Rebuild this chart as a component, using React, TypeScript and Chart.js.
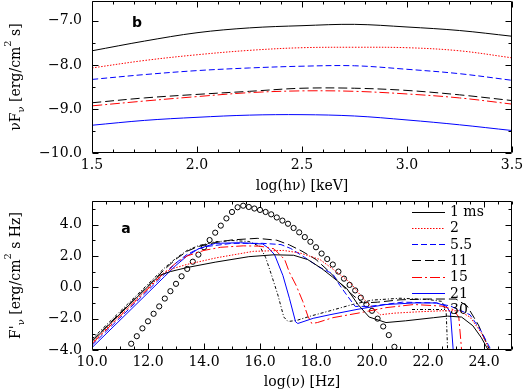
import React, { useEffect, useRef } from 'react';
import { Chart, registerables } from 'chart.js';

Chart.register(...registerables);

const SERIF = "'DejaVu Serif', serif";
const SANS = "'DejaVu Sans', sans-serif";

// ---------------- panel b (top) ----------------
const logHv = [1.5, 1.75, 2.0, 2.25, 2.5, 2.75, 3.0, 3.25, 3.5];
const b1 = [-7.68, -7.46, -7.27, -7.16, -7.11, -7.08, -7.14, -7.22, -7.35];
const b2 = [-8.07, -7.9, -7.77, -7.67, -7.61, -7.6, -7.61, -7.68, -7.84];
const b55 = [-8.33, -8.22, -8.13, -8.07, -8.03, -8.02, -8.1, -8.2, -8.35];
const b11 = [-8.86, -8.75, -8.67, -8.6, -8.53, -8.53, -8.58, -8.68, -8.81];
const b15 = [-8.93, -8.82, -8.72, -8.63, -8.59, -8.6, -8.66, -8.75, -8.89];
const b21 = [-9.37, -9.26, -9.19, -9.14, -9.13, -9.16, -9.25, -9.36, -9.49];

// ---------------- panel a (bottom) ----------------
const a1x = [10, 11, 12, 12.4, 12.8, 13.4, 14.4, 15.6, 16.5, 17.2, 17.7, 18.2, 18.6, 19.1, 19.5, 19.9, 20.5, 21.2, 22.2, 22.7, 23.2, 23.6, 23.9, 24.15];
const a1y = [-3.45, -1.7, 0.05, 0.75, 1.0, 1.26, 1.6, 1.95, 2.07, 2.04, 1.77, 1.2, 0.64, -0.08, -1.1, -1.9, -2.25, -2.14, -1.94, -1.84, -1.9, -2.45, -3.2, -4.0];

const a2x = [10, 11, 12, 12.5, 12.9, 13.4, 14.45, 15.76, 16.83, 17.42, 18.14, 18.61, 19.2, 19.68, 20.04, 20.3, 20.8, 21.6, 22.5, 23.1, 23.5, 23.9, 24.2];
const a2y = [-3.55, -1.8, -0.05, 0.85, 1.2, 1.46, 1.88, 2.29, 2.35, 2.19, 1.77, 1.15, 0.33, -0.7, -1.35, -1.75, -1.65, -1.57, -1.5, -1.5, -1.9, -2.9, -4.0];

const a55x = [10, 11, 12, 12.6, 13.0, 13.4, 13.8, 14.1, 15.0, 16.1, 16.75, 17.1, 17.6, 18.1, 18.6, 18.85, 19.1, 19.4, 19.9, 21.1, 22.3, 22.8, 23.5, 23.9, 24.25];
const a55y = [-3.7, -1.95, -0.2, 0.85, 1.55, 2.1, 2.45, 2.6, 2.8, 2.8, 2.72, 2.47, 1.9, 1.3, 0.85, 0.12, -0.5, -1.22, -1.22, -0.95, -1.0, -1.2, -1.75, -2.8, -4.0];

const a11x = [10, 11, 12, 12.6, 13.0, 13.4, 13.8, 14.4, 15.0, 15.9, 16.6, 17.05, 17.5, 18.0, 18.5, 19.1, 19.45, 19.7, 20.2, 21.0, 22.0, 23.0, 23.4, 23.8, 24.2];
const a11y = [-3.4, -1.65, 0.1, 1.15, 1.8, 2.3, 2.6, 2.85, 3.02, 3.12, 3.0, 2.7, 2.3, 1.77, 0.95, -0.19, -0.7, -1.0, -0.95, -0.8, -0.75, -0.75, -1.2, -2.4, -4.0];

const a15x = [10, 11, 12, 12.6, 13.0, 13.4, 14.0, 14.6, 15.4, 16.0, 16.5, 16.88, 17.05, 17.29, 17.53, 17.71, 17.85, 18.05, 18.6, 19.5, 20.5, 21.5, 22.5, 22.9, 23.1, 23.2];
const a15y = [-3.6, -1.85, -0.1, 0.95, 1.55, 2.0, 2.35, 2.55, 2.64, 2.62, 2.45, 1.77, 0.95, 0.12, -0.91, -1.84, -2.31, -2.25, -1.94, -1.65, -1.3, -1.1, -1.2, -1.42, -1.9, -4.0];

const a21x = [10, 11, 12, 12.6, 13.0, 13.4, 13.8, 14.4, 15.3, 16.1, 16.3, 16.52, 16.82, 17.05, 17.27, 17.35, 17.9, 18.5, 19.5, 20.5, 21.5, 22.3, 22.65, 22.8, 22.9];
const a21y = [-3.85, -2.1, -0.35, 0.7, 1.4, 2.0, 2.45, 2.8, 2.84, 2.76, 2.5, 2.08, 0.74, -0.7, -2.2, -2.31, -1.98, -1.75, -1.4, -1.1, -1.0, -1.0, -1.2, -1.6, -4.0];

const a30x = [10, 11, 12, 12.6, 13.0, 13.4, 13.8, 14.4, 15.0, 15.6, 16.0, 16.2, 16.4, 16.64, 16.85, 17.0, 17.3, 17.8, 18.5, 19.3, 20.0, 21.0, 22.0, 22.5, 22.65, 22.7];
const a30y = [-3.3, -1.55, 0.2, 1.25, 1.85, 2.35, 2.65, 2.9, 2.98, 2.92, 2.6, 1.9, 0.84, -0.5, -1.9, -2.18, -2.12, -1.84, -1.5, -1.1, -0.82, -0.7, -0.78, -0.9, -1.6, -4.0];

const circX = [11.4, 11.6, 11.8, 12.0, 12.2, 12.4, 12.6, 12.8, 13.0, 13.2, 13.4, 13.6, 13.8, 14.0, 14.2, 14.4, 14.6, 14.8, 15.0, 15.2, 15.4, 15.6, 15.8, 16.0, 16.2, 16.4, 16.6, 16.8, 17.0, 17.2, 17.4, 17.6, 17.8, 18.0, 18.2, 18.4, 18.6, 18.8, 19.0, 19.2, 19.4, 19.6, 19.8, 20.0, 20.2, 20.4, 20.6, 20.8];
const circY = [-3.6, -3.12, -2.62, -2.17, -1.69, -1.22, -0.72, -0.25, 0.22, 0.7, 1.17, 1.63, 2.08, 2.55, 3.01, 3.48, 3.93, 4.39, 4.8, 5.1, 5.2, 5.12, 5.02, 4.93, 4.8, 4.65, 4.45, 4.25, 4.05, 3.78, 3.5, 3.2, 2.9, 2.55, 2.15, 1.8, 1.45, 1.0, 0.55, 0.15, -0.2, -0.66, -1.1, -1.5, -2.0, -2.5, -3.05, -3.8];

const legendLabels = ['1 ms', '2', '5.5', '11', '15', '21', '30'];

// styles (not data)
const COLORS = ['#000000', '#ff0000', '#0000ff', '#000000', '#ff0000', '#0000ff', '#000000'];
const DASHES: number[][] = [[], [1.5, 1.5], [6, 3], [9, 4], [10, 3, 2, 3], [], [3, 2, 1, 2]];

const fmt = (v: any) => {
  const n = Number(v);
  const s = Math.abs(n).toFixed(1);
  return n < -1e-9 ? '\u2212' + s : s;
};

const pts = (xs: number[], ys: number[]) => xs.map((x, i) => ({ x, y: ys[i] }));

const lineDs = (data: any[], i: number, tension: number) => ({
  data,
  showLine: true,
  borderColor: COLORS[i],
  borderWidth: 1,
  borderDash: DASHES[i],
  pointRadius: 0,
  tension,
  fill: false,
});

const makeFrame = (xMinor: number, xMajor: number, yMinor: number, yMajor: number) => ({
  id: 'frameTicks',
  afterDatasetsDraw(chart: any) {
    const { ctx, chartArea: a } = chart;
    const xs = chart.scales.x;
    const ys = chart.scales.y;
    const L = Math.round(a.left) + 0.5;
    const R = Math.round(a.right) - 0.5;
    const T = Math.round(a.top) + 0.5;
    const B = Math.round(a.bottom) - 0.5;
    ctx.save();
    ctx.strokeStyle = '#000';
    ctx.lineWidth = 1;
    ctx.setLineDash([]);
    ctx.beginPath();
    ctx.rect(L, T, R - L, B - T);
    const isMajor = (v: number, m: number) => Math.abs(v / m - Math.round(v / m)) < 1e-6;
    const x0 = Math.ceil(xs.min / xMinor - 1e-6);
    const x1 = Math.floor(xs.max / xMinor + 1e-6);
    for (let k = x0; k <= x1; k++) {
      const v = k * xMinor;
      const p = Math.round(xs.getPixelForValue(v)) + 0.5;
      const len = isMajor(v, xMajor) ? 6 : 3;
      ctx.moveTo(p, B); ctx.lineTo(p, B - len);
      ctx.moveTo(p, T); ctx.lineTo(p, T + len);
    }
    const y0 = Math.ceil(ys.min / yMinor - 1e-6);
    const y1 = Math.floor(ys.max / yMinor + 1e-6);
    for (let k = y0; k <= y1; k++) {
      const v = k * yMinor;
      const p = Math.round(ys.getPixelForValue(v)) + 0.5;
      const len = isMajor(v, yMajor) ? 6 : 3;
      ctx.moveTo(L, p); ctx.lineTo(L + len, p);
      ctx.moveTo(R, p); ctx.lineTo(R - len, p);
    }
    ctx.stroke();
    ctx.restore();
  },
});

type Part = { t: string; sub?: boolean; sup?: boolean };

function drawVTitle(ctx: CanvasRenderingContext2D, parts: Part[], cx: number, cy: number) {
  ctx.save();
  ctx.translate(cx, cy);
  ctx.rotate(-Math.PI / 2);
  ctx.fillStyle = '#000';
  ctx.textBaseline = 'alphabetic';
  ctx.textAlign = 'left';
  const main = `14px ${SERIF}`;
  const small = `10px ${SERIF}`;
  let total = 0;
  for (const p of parts) {
    ctx.font = p.sub || p.sup ? small : main;
    total += ctx.measureText(p.t).width;
  }
  let x = -total / 2;
  for (const p of parts) {
    ctx.font = p.sub || p.sup ? small : main;
    const dy = p.sub ? 4 : p.sup ? -9 : 0;
    ctx.fillText(p.t, x, 5 + dy);
    x += ctx.measureText(p.t).width;
  }
  ctx.restore();
}

const makeTexts = (title: Part[], letter: string, lx: number, ly: number, legend: boolean) => ({
  id: 'texts',
  afterDraw(chart: any) {
    const { ctx, chartArea: a } = chart;
    drawVTitle(ctx, title, 15, (a.top + a.bottom) / 2);
    ctx.save();
    ctx.fillStyle = '#000';
    ctx.font = `bold 14px ${SANS}`;
    ctx.textAlign = 'center';
    ctx.textBaseline = 'alphabetic';
    ctx.fillText(letter, lx, ly);
    if (legend) {
      ctx.font = `14px ${SERIF}`;
      ctx.textAlign = 'left';
      ctx.textBaseline = 'middle';
      legendLabels.forEach((lab, i) => {
        const y = 15.5 + i * 16.3;
        ctx.strokeStyle = COLORS[i];
        ctx.lineWidth = 1;
        ctx.setLineDash(DASHES[i]);
        ctx.beginPath();
        ctx.moveTo(412, Math.round(y) + 0.5);
        ctx.lineTo(445, Math.round(y) + 0.5);
        ctx.stroke();
        ctx.fillStyle = '#000';
        ctx.fillText(lab, 450, y + 1);
      });
    }
    ctx.restore();
  },
});

const axisCommon = (min: number, max: number) => ({
  type: 'linear' as const,
  min,
  max,
  grid: { display: false, drawTicks: false },
  border: { display: false },
});

const fitX = (h: number) => (s: any) => {
  s.height = h;
  s.paddingLeft = 0;
  s.paddingRight = 0;
  s.paddingTop = 0;
  s.paddingBottom = 0;
};
const fitY = (w: number) => (s: any) => {
  s.width = w;
  s.paddingTop = 0;
  s.paddingBottom = 0;
  s.paddingLeft = 0;
  s.paddingRight = 0;
};

function topConfig(): any {
  const sets = [b1, b2, b55, b11, b15, b21];
  return {
    type: 'scatter',
    data: { datasets: sets.map((s, i) => lineDs(pts(logHv, s), i, 0.35)) },
    options: {
      animation: false,
      responsive: false,
      maintainAspectRatio: false,
      layout: { padding: { left: 0, right: 19, top: 1, bottom: 0 } },
      plugins: { legend: { display: false }, tooltip: { enabled: false } },
      scales: {
        x: {
          ...axisCommon(1.5, 3.5),
          afterFit: fitX(43),
          ticks: { stepSize: 0.5, includeBounds: false, autoSkip: false, maxRotation: 0, padding: 4, color: '#000', font: { family: SERIF, size: 14 }, callback: fmt },
          title: { display: true, text: 'log(h\u03bd) [keV]', color: '#000', font: { family: SERIF, size: 14 }, padding: { top: 0, bottom: 1 } },
        },
        y: {
          ...axisCommon(-10, -6.55),
          afterFit: fitY(92),
          ticks: { stepSize: 1, includeBounds: false, autoSkip: false, padding: 10, color: '#000', font: { family: SERIF, size: 14 }, callback: fmt },
        },
      },
    },
    plugins: [
      makeFrame(0.1, 0.5, 0.5, 1),
      makeTexts([{ t: '\u03bdF' }, { t: '\u03bd', sub: true }, { t: ' [erg/cm' }, { t: '2', sup: true }, { t: ' s]' }], 'b', 137, 27, false),
    ],
  };
}

function botConfig(): any {
  const sx = [a1x, a2x, a55x, a11x, a15x, a21x, a30x];
  const sy = [a1y, a2y, a55y, a11y, a15y, a21y, a30y];
  const datasets: any[] = sx.map((xs, i) => lineDs(pts(xs, sy[i]), i, 0));
  datasets.push({
    data: pts(circX, circY),
    showLine: false,
    pointStyle: 'circle',
    pointRadius: 2.6,
    pointBorderWidth: 1,
    borderColor: '#000',
    backgroundColor: 'rgba(0,0,0,0)',
    pointBackgroundColor: 'rgba(0,0,0,0)',
    pointBorderColor: '#000',
  });
  return {
    type: 'scatter',
    data: { datasets },
    options: {
      animation: false,
      responsive: false,
      maintainAspectRatio: false,
      layout: { padding: { left: 0, right: 19, top: 1, bottom: 0 } },
      plugins: { legend: { display: false }, tooltip: { enabled: false } },
      scales: {
        x: {
          ...axisCommon(10, 25),
          afterFit: fitX(42),
          ticks: { stepSize: 2, includeBounds: false, autoSkip: false, maxRotation: 0, padding: 4, color: '#000', font: { family: SERIF, size: 14 }, callback: fmt },
          title: { display: true, text: 'log(\u03bd) [Hz]', color: '#000', font: { family: SERIF, size: 14 }, padding: { top: 0, bottom: 1 } },
        },
        y: {
          ...axisCommon(-4, 5.5),
          afterFit: fitY(92),
          ticks: { stepSize: 2, includeBounds: false, autoSkip: false, padding: 10, color: '#000', font: { family: SERIF, size: 14 }, callback: fmt },
        },
      },
    },
    plugins: [
      makeFrame(0.5, 2, 1, 2),
      makeTexts([{ t: "F'" }, { t: '\u03bd', sub: true }, { t: ' [erg/cm' }, { t: '2', sup: true }, { t: ' s Hz]' }], 'a', 126, 37, true),
    ],
  };
}

export default function App() {
  const topRef = useRef<HTMLCanvasElement>(null);
  const botRef = useRef<HTMLCanvasElement>(null);
  useEffect(() => {
    document.body.style.margin = '0';
    const c1 = new Chart(topRef.current as HTMLCanvasElement, topConfig());
    const c2 = new Chart(botRef.current as HTMLCanvasElement, botConfig());
    return () => {
      c1.destroy();
      c2.destroy();
    };
  }, []);
  return (
    <div style={{ position: 'relative', width: 531, height: 392, background: '#fff' }}>
      <canvas ref={topRef} width={531} height={196} style={{ position: 'absolute', left: 0, top: 0, width: 531, height: 196 }} />
      <canvas ref={botRef} width={531} height={196} style={{ position: 'absolute', left: 0, top: 196, width: 531, height: 196 }} />
    </div>
  );
}
